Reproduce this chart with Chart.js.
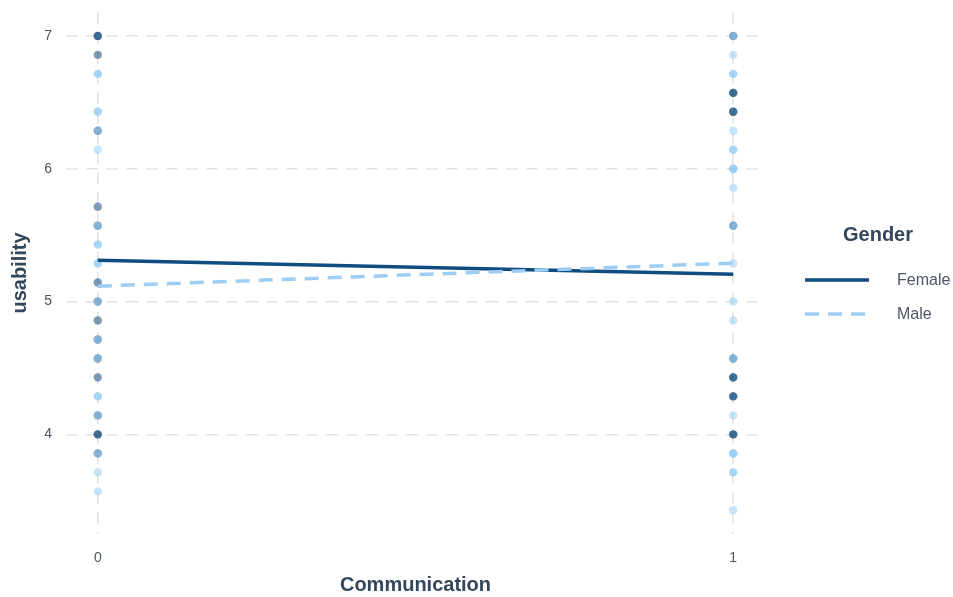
<!DOCTYPE html>
<html>
<head>
<meta charset="utf-8">
<script src="https://cdn.jsdelivr.net/npm/chart.js@4/dist/chart.umd.min.js"></script>
<style>
  html, body { margin: 0; padding: 0; background: #ffffff; }
  #wrap { width: 953px; height: 597px; position: relative; }
</style>
</head>
<body>
<div id="wrap"><canvas id="chart" width="953" height="597"></canvas></div>
<script>
// Communication condition (0 / 1) on x, usability score on y
const xCategories = [0, 1];
const yTicks = [4, 5, 6, 7];
const xTicks = [0, 1];

// Individual usability scores by gender and condition
const femaleAt0 = [7, 7, 6.857, 6.286, 5.714, 5.571, 5.143, 5.0, 4.857, 4.714, 4.571, 4.429, 4.143, 4, 4, 3.857];
const femaleAt1 = [7, 6.571, 6.571, 6.429, 6.429, 5.571, 4.571, 4.429, 4.429, 4.286, 4.286, 4, 4];
const maleAt0 = [6.714, 6.714, 6.429, 6.429, 6.286, 6.143, 5.571, 5.429, 5.429, 5.286, 5.286, 5.0, 4.714, 4.571, 4.286, 4.286, 4.143, 3.857, 3.714, 3.571];
const maleAt1 = [7, 6.857, 6.714, 6.714, 6.286, 6.143, 6.143, 6, 6, 6, 5.857, 5.571, 5.286, 5.0, 4.857, 4.571, 4.143, 3.857, 3.857, 3.857, 3.714, 3.714, 3.429];

// Fitted usability per condition
const femaleFit = [5.311, 5.206];
const maleFit = [5.116, 5.289];

const genders = ['Female', 'Male'];

const FEMALE = '#0f4c7f';
const MALE = '#9dcdf3';
const TEXT = '#4b5563';
const TITLE = '#34465a';
const FONT = '"Liberation Sans", Arial, Helvetica, sans-serif';

function toPoints(x, ys) { return ys.map(y => ({ x: x, y: y })); }
function fitPoints(vals) { return xCategories.map((x, i) => ({ x: x, y: vals[i] })); }

// Legend drawn on the right side with line keys
const sideLegend = {
  id: 'sideLegend',
  afterDraw(chart) {
    const ctx = chart.ctx;
    ctx.save();
    ctx.fillStyle = TITLE;
    ctx.font = 'bold 20px ' + FONT;
    ctx.textAlign = 'center';
    ctx.textBaseline = 'middle';
    ctx.fillText('Gender', 878, 235);
    const rows = [
      { label: genders[0], color: FEMALE, dash: [], y: 280 },
      { label: genders[1], color: MALE, dash: [14, 9], y: 314 }
    ];
    rows.forEach(r => {
      ctx.beginPath();
      ctx.strokeStyle = r.color;
      ctx.lineWidth = 3.5;
      ctx.setLineDash(r.dash);
      ctx.moveTo(805, r.y);
      ctx.lineTo(869, r.y);
      ctx.stroke();
      ctx.setLineDash([]);
      ctx.fillStyle = TEXT;
      ctx.font = '16px ' + FONT;
      ctx.textAlign = 'left';
      ctx.fillText(r.label, 897, r.y + 1);
    });
    ctx.restore();
  }
};

const gridDash = { color: '#e4e4e4', lineWidth: 1.6, drawTicks: false };

// Drop the label overhang padding so the plot area sits at fixed edges
function noOverhang(s) {
  s.paddingTop = 0; s.paddingBottom = 0; s.paddingLeft = 0; s.paddingRight = 0;
}

new Chart(document.getElementById('chart'), {
  type: 'scatter',
  data: {
    datasets: [
      {
        type: 'line', label: genders[1], data: fitPoints(maleFit),
        borderColor: MALE, borderWidth: 3.5, borderDash: [14, 9],
        pointRadius: 0, fill: false, order: 0
      },
      {
        type: 'line', label: genders[0], data: fitPoints(femaleFit),
        borderColor: FEMALE, borderWidth: 3.5,
        pointRadius: 0, fill: false, order: 1
      },
      {
        label: genders[1] + ' points',
        data: toPoints(0, maleAt0).concat(toPoints(1, maleAt1)),
        backgroundColor: 'rgba(142,202,245,0.5)', borderWidth: 0,
        pointRadius: 4.2, order: 2
      },
      {
        label: genders[0] + ' points',
        data: toPoints(0, femaleAt0).concat(toPoints(1, femaleAt1)),
        backgroundColor: 'rgba(16,72,122,0.55)', borderWidth: 0,
        pointRadius: 4.2, order: 3
      }
    ]
  },
  options: {
    responsive: false,
    animation: false,
    events: [],
    layout: { padding: { left: 0, right: 188, top: 12, bottom: 0 } },
    plugins: { legend: { display: false }, tooltip: { enabled: false } },
    scales: {
      x: {
        type: 'linear', min: -0.05, max: 1.05,
        afterBuildTicks: s => { s.ticks = xTicks.map(v => ({ value: v })); },
        afterFit: s => { s.height = 63; noOverhang(s); },
        grid: { ...gridDash },
        border: { display: false, dash: [12, 8] },
        ticks: { color: TEXT, font: { size: 14, family: FONT }, padding: 16 },
        title: { display: true, text: 'Communication', color: TITLE, font: { size: 20, weight: 'bold', family: FONT }, padding: { top: 12, bottom: 0 } }
      },
      y: {
        type: 'linear', min: 3.25, max: 7.18,
        afterBuildTicks: s => { s.ticks = yTicks.map(v => ({ value: v })); },
        afterFit: s => { s.width = 66; noOverhang(s); },
        grid: { ...gridDash },
        border: { display: false, dash: [12, 8] },
        ticks: { color: TEXT, font: { size: 14, family: FONT }, padding: 14 },
        title: { display: true, text: 'usability', color: TITLE, font: { size: 20, weight: 'bold', family: FONT }, padding: { top: 8, bottom: 0 } }
      }
    }
  },
  plugins: [sideLegend]
});
</script>
</body>
</html>
